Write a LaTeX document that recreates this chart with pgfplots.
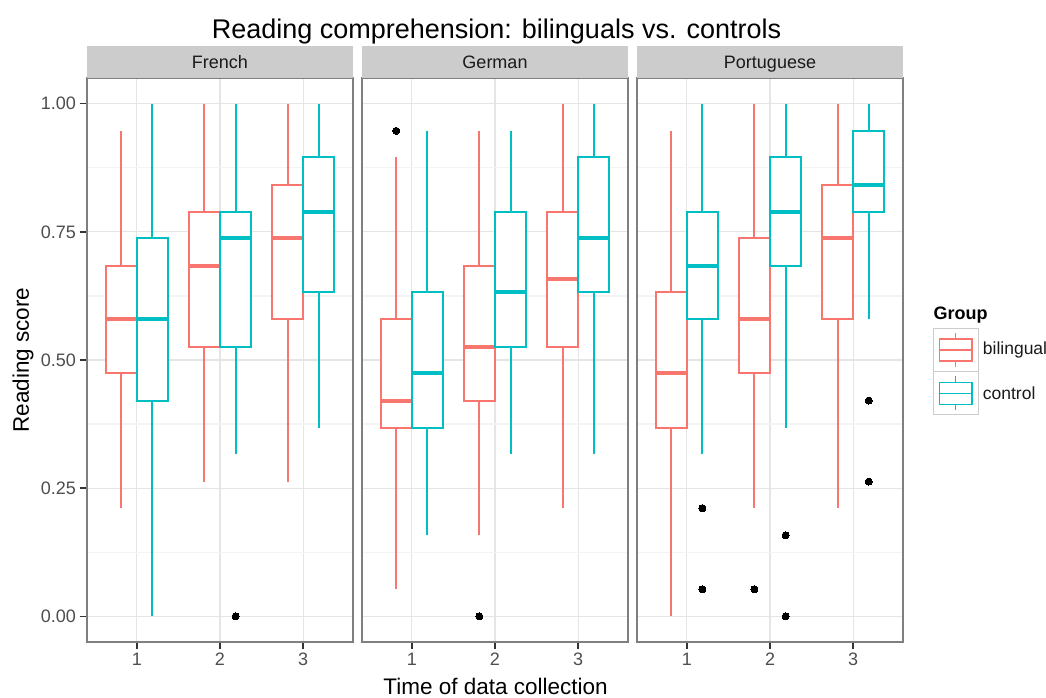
\documentclass[border=0pt]{standalone}
\usepackage{fontspec}
\setmainfont{Liberation Sans}
\usepackage{pgfplots}
\pgfplotsset{compat=1.18}
\usepgfplotslibrary{statistics}
\definecolor{bil}{HTML}{F8766D}
\definecolor{ctl}{HTML}{00BFC4}
\definecolor{grey90}{HTML}{E5E5E5}
\definecolor{grey98}{HTML}{F4F4F4}
\definecolor{grey50}{HTML}{7F7F7F}
\definecolor{grey80}{HTML}{CCCCCC}
\definecolor{grey30}{HTML}{4D4D4D}
\definecolor{grey20}{HTML}{333333}
\definecolor{grey10}{HTML}{1A1A1A}

\pgfplotsset{
  panel/.style={
    scale only axis, width=266pt, height=564pt, anchor=south west,
    xmin=0.4, xmax=3.6, ymin=-0.05, ymax=1.05,
    xtick={1,2,3}, xticklabels={1,2,3},
    ytick={0,0.25,0.5,0.75,1}, yticklabels={0.00,0.25,0.50,0.75,1.00},
    minor ytick={0.125,0.375,0.625,0.875},
    xmajorgrids, ymajorgrids, yminorgrids,
    major grid style={grey90, line width=1.2pt},
    minor grid style={grey98, line width=1.2pt},
    axis line style={grey50, line width=1.8pt},
    tick align=outside, tick pos=left,
    major tick length=7.5pt, minor tick length=0pt,
    xtick style={grey20, line width=1.5pt},
    ytick style={grey20, line width=1.5pt},
    ticklabel style={font=\fontsize{18}{20}\selectfont, text=grey30},
    /pgf/number format/assume math mode=true,
    clip=false,
    boxplot/draw direction=y,
    boxplot/box extend=0.375,
    boxplot/every box/.style={fill=white},
    boxplot/every median/.style={line width=4pt},
    boxplot/draw/lower whisker/.code={\draw[/pgfplots/boxplot/every whisker/.try] (boxplot cs:\pgfplotsboxplotvalue{lower whisker}) -- (boxplot cs:\pgfplotsboxplotvalue{lower quartile});},
    boxplot/draw/upper whisker/.code={\draw[/pgfplots/boxplot/every whisker/.try] (boxplot cs:\pgfplotsboxplotvalue{upper quartile}) -- (boxplot cs:\pgfplotsboxplotvalue{upper whisker});},
    every axis plot/.append style={line width=2pt, mark=*, mark size=3.5pt, mark options={fill=black, draw=black, line width=0pt}},
  },
  noy/.style={yticklabels={}, ytick style={draw=none}},
}
\newcommand{\strip}[1]{%
  \fill[grey80] (rel axis cs:0,1) rectangle ([yshift=32pt]rel axis cs:1,1);
  \node[font=\fontsize{18}{20}\selectfont, text=grey10, anchor=base, inner sep=0pt] at ([yshift=9.5pt]rel axis cs:0.5,1) {#1};}

\begin{document}
\begin{tikzpicture}[x=1pt,y=1pt]
\useasboundingbox (0,0) rectangle (1046,698);

% ---------------- French ----------------
\begin{axis}[panel, at={(87pt,56pt)}]
\addplot[bil, boxplot prepared={draw position=0.8125, lower whisker=0.211, lower quartile=0.474, median=0.579, upper quartile=0.684, upper whisker=0.947}] coordinates {};
\addplot[ctl, boxplot prepared={draw position=1.1875, lower whisker=0.0, lower quartile=0.421, median=0.579, upper quartile=0.737, upper whisker=1.0}] coordinates {};
\addplot[bil, boxplot prepared={draw position=1.8125, lower whisker=0.263, lower quartile=0.526, median=0.684, upper quartile=0.789, upper whisker=1.0}] coordinates {};
\addplot[ctl, boxplot prepared={draw position=2.1875, lower whisker=0.316, lower quartile=0.526, median=0.737, upper quartile=0.789, upper whisker=1.0}] coordinates {(0,0.0)};
\addplot[bil, boxplot prepared={draw position=2.8125, lower whisker=0.263, lower quartile=0.579, median=0.737, upper quartile=0.842, upper whisker=1.0}] coordinates {};
\addplot[ctl, boxplot prepared={draw position=3.1875, lower whisker=0.368, lower quartile=0.632, median=0.789, upper quartile=0.895, upper whisker=1.0}] coordinates {};
\strip{French}
\end{axis}

% ---------------- German ----------------
\begin{axis}[panel, noy, at={(362pt,56pt)}]
\addplot[bil, boxplot prepared={draw position=0.8125, lower whisker=0.053, lower quartile=0.368, median=0.421, upper quartile=0.579, upper whisker=0.895}] coordinates {(0,0.947)};
\addplot[ctl, boxplot prepared={draw position=1.1875, lower whisker=0.158, lower quartile=0.368, median=0.474, upper quartile=0.632, upper whisker=0.947}] coordinates {};
\addplot[bil, boxplot prepared={draw position=1.8125, lower whisker=0.158, lower quartile=0.421, median=0.526, upper quartile=0.684, upper whisker=0.947}] coordinates {(0,0.0)};
\addplot[ctl, boxplot prepared={draw position=2.1875, lower whisker=0.316, lower quartile=0.526, median=0.632, upper quartile=0.789, upper whisker=0.947}] coordinates {};
\addplot[bil, boxplot prepared={draw position=2.8125, lower whisker=0.211, lower quartile=0.526, median=0.658, upper quartile=0.789, upper whisker=1.0}] coordinates {};
\addplot[ctl, boxplot prepared={draw position=3.1875, lower whisker=0.316, lower quartile=0.632, median=0.737, upper quartile=0.895, upper whisker=1.0}] coordinates {};
\strip{German}
\end{axis}

% ---------------- Portuguese ----------------
\begin{axis}[panel, noy, at={(637pt,56pt)}]
\addplot[bil, boxplot prepared={draw position=0.8125, lower whisker=0.0, lower quartile=0.368, median=0.474, upper quartile=0.632, upper whisker=0.947}] coordinates {};
\addplot[ctl, boxplot prepared={draw position=1.1875, lower whisker=0.316, lower quartile=0.579, median=0.684, upper quartile=0.789, upper whisker=1.0}] coordinates {(0,0.211) (0,0.053)};
\addplot[bil, boxplot prepared={draw position=1.8125, lower whisker=0.211, lower quartile=0.474, median=0.579, upper quartile=0.737, upper whisker=1.0}] coordinates {(0,0.053)};
\addplot[ctl, boxplot prepared={draw position=2.1875, lower whisker=0.368, lower quartile=0.684, median=0.789, upper quartile=0.895, upper whisker=1.0}] coordinates {(0,0.158) (0,0.0)};
\addplot[bil, boxplot prepared={draw position=2.8125, lower whisker=0.211, lower quartile=0.579, median=0.737, upper quartile=0.842, upper whisker=1.0}] coordinates {};
\addplot[ctl, boxplot prepared={draw position=3.1875, lower whisker=0.579, lower quartile=0.789, median=0.842, upper quartile=0.947, upper whisker=1.0}] coordinates {(0,0.421) (0,0.263)};
\strip{Portuguese}
\end{axis}

% ---------------- titles ----------------
\node[font=\fontsize{27}{30}\selectfont, anchor=base] at (496.5,659) {Reading comprehension: bilinguals vs. controls};
\node[font=\fontsize{22.5}{25}\selectfont, anchor=base] at (495.5,3) {Time of data collection};
\node[font=\fontsize{22.5}{25}\selectfont, rotate=90, anchor=center] at (23,338) {Reading score};

% ---------------- legend ----------------
\node[font=\bfseries\fontsize{18}{20}\selectfont, anchor=base west, inner sep=0pt] at (933.5,378.7) {Group};
\draw[grey80, line width=1pt, fill=white] (933,326.3) rectangle (978,369.7);
\draw[grey80, line width=1pt, fill=white] (933,283) rectangle (978,326.3);
\begin{scope}[bil, line width=1.6pt]
\draw (955.3,331) -- (955.3,337) (955.3,358.7) -- (955.3,365.3);
\draw (939.3,337) rectangle (971.7,358.7);
\draw (939.3,348) -- (971.7,348);
\end{scope}
\begin{scope}[ctl, line width=1.6pt]
\draw (955.3,287.7) -- (955.3,293.6) (955.3,315.3) -- (955.3,322);
\draw (939.3,293.6) rectangle (971.7,315.3);
\draw (939.3,304.6) -- (971.7,304.6);
\end{scope}
\node[font=\fontsize{17.5}{20}\selectfont, anchor=west, inner sep=0pt, text=grey10] at (982.7,348) {bilingual};
\node[font=\fontsize{17.5}{20}\selectfont, anchor=west, inner sep=0pt, text=grey10] at (982.7,304.6) {control};
\end{tikzpicture}
\end{document}
